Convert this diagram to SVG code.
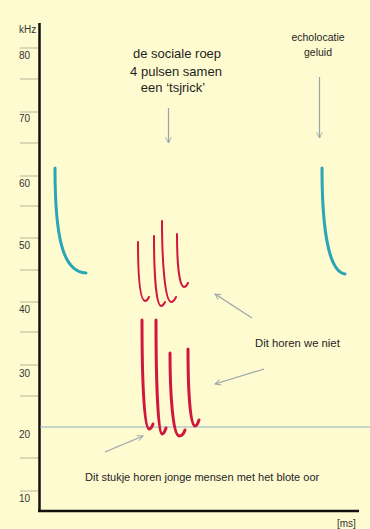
<svg xmlns="http://www.w3.org/2000/svg" width="370" height="529" viewBox="0 0 370 529">
<defs>
<style>
.t{font-family:"Liberation Sans",Arial,sans-serif;fill:#1e1e1e;}
.ax{font-family:"Liberation Sans",Arial,sans-serif;fill:#333;font-size:10px;}
.tick{stroke:#bbb49a;stroke-width:1;}
.ptr{stroke:#9aa4ab;stroke-width:1.2;fill:none;marker-end:url(#ah);}
.echo{stroke:#2aa6b6;stroke-width:3;fill:none;stroke-linecap:round;}
.soc{stroke:#d0173e;fill:none;stroke-linecap:round;}
</style>
<marker id="ah" viewBox="0 0 10 10" refX="9" refY="5" markerWidth="7" markerHeight="7" orient="auto" markerUnits="userSpaceOnUse">
<path d="M1,1 L9,5 L1,9" fill="none" stroke="#9aa4ab" stroke-width="1.3"/>
</marker>
</defs>
<rect width="370" height="529" fill="#fefbd0"/>
<g id="axes">
<line x1="39.5" y1="23" x2="39.5" y2="512" stroke="#111" stroke-width="2.5"/>
<line x1="38" y1="511" x2="359" y2="511" stroke="#111" stroke-width="2.5"/>
<g class="tick">
<line x1="20" y1="48" x2="38" y2="48"/><line x1="20" y1="79" x2="38" y2="79"/>
<line x1="20" y1="112" x2="38" y2="112"/><line x1="20" y1="143" x2="38" y2="143"/>
<line x1="20" y1="176" x2="38" y2="176"/><line x1="20" y1="206" x2="38" y2="206"/>
<line x1="20" y1="238" x2="38" y2="238"/><line x1="20" y1="270" x2="38" y2="270"/>
<line x1="20" y1="302" x2="38" y2="302"/><line x1="20" y1="332" x2="38" y2="332"/>
<line x1="20" y1="365" x2="38" y2="365"/><line x1="20" y1="396" x2="38" y2="396"/>
<line x1="20" y1="458" x2="38" y2="458"/><line x1="20" y1="491" x2="38" y2="491"/>
</g>
<text class="ax" x="19" y="33" font-size="9">kHz</text>
<text class="ax" x="19" y="59">80</text>
<text class="ax" x="19" y="122">70</text>
<text class="ax" x="19" y="187">60</text>
<text class="ax" x="19" y="249">50</text>
<text class="ax" x="19" y="313">40</text>
<text class="ax" x="19" y="377">30</text>
<text class="ax" x="19" y="438">20</text>
<text class="ax" x="19" y="502">10</text>
<text class="ax" x="337" y="527" font-size="8">[ms]</text>
<line x1="40" y1="427" x2="370" y2="427" stroke="#8fb0c4" stroke-width="1.2"/>
</g>
<g id="echo-left"><path class="echo" d="M55,168 C55,235 62,272 86,273"/></g>
<g id="echo-right"><path class="echo" d="M322,168 C322,235 330,272 345,274"/></g>
<g id="social-upper" class="soc" stroke-width="2">
<path d="M138,242 C138,275 140,300 145,301 C147,301 148,299 149,297"/>
<path d="M154,236 C154,272 156,305 161,306 C163,306 164,304 165,302"/>
<path d="M162,221 C162,262 165,301 171,302 C174,302 175,299 176,297"/>
<path d="M177,234 C177,262 179,286 184,287 C186,287 187,285 188,283"/>
</g>
<g id="social-lower" class="soc" stroke-width="3">
<path d="M142,320 C142,380 144,428 149,429 C151,429 152,427 153,424"/>
<path d="M156,320 C156,382 158,433 162,434 C164,434 165,431 166,428"/>
<path d="M170,353 C170,395 173,435 179,436 C182,436 184,433 185,430"/>
<path d="M188,349 C188,390 190,425 195,426 C197,426 198,423 199,420"/>
</g>
<g id="labels">
<text class="t" font-size="13" text-anchor="middle" x="177" y="58">de sociale roep</text>
<text class="t" font-size="13" text-anchor="middle" x="176" y="76">4 pulsen samen</text>
<text class="t" font-size="13" text-anchor="middle" x="173" y="92">een ‘tsjrick’</text>
<text class="t" font-size="10.5" text-anchor="middle" x="318" y="41">echolocatie</text>
<text class="t" font-size="10.5" text-anchor="middle" x="318" y="56">geluid</text>
<text class="t" font-size="11.3" x="255" y="347">Dit horen we niet</text>
<text class="t" font-size="11" x="85" y="481">Dit stukje horen jonge mensen met het blote oor</text>
</g>
<g id="connectors">
<line class="ptr" x1="168.5" y1="108" x2="168.5" y2="143"/>
<line class="ptr" x1="319.5" y1="77" x2="319.5" y2="138"/>
<line class="ptr" x1="252" y1="318" x2="215" y2="294"/>
<line class="ptr" x1="264" y1="369" x2="215" y2="384"/>
<line class="ptr" x1="105" y1="452" x2="143" y2="436"/>
</g>
</svg>
